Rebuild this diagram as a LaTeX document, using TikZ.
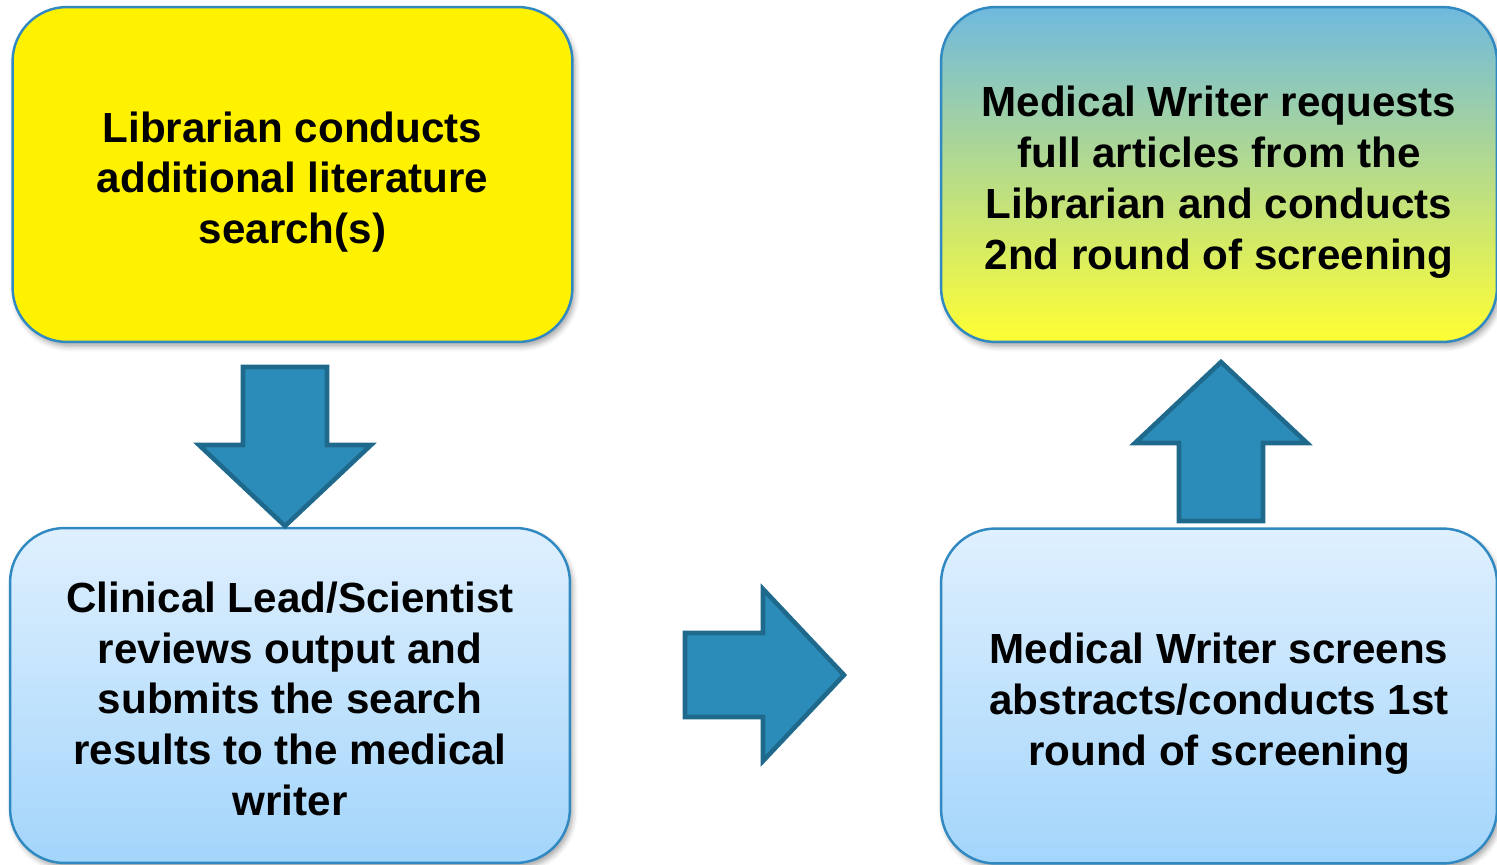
\documentclass[tikz,border=0pt]{standalone}
\usepackage{fontspec}
\setmainfont{Liberation Sans}
\usetikzlibrary{shadows.blur}
\definecolor{boxEdge}{HTML}{3189C1}
\definecolor{arrowFill}{HTML}{2B8CBA}
\definecolor{arrowEdge}{HTML}{1F6A8C}
\definecolor{paleBlue}{HTML}{DFF0FE}
\definecolor{skyBlue}{HTML}{A3D5FB}
\definecolor{tealBlue}{HTML}{6FB9DF}
\definecolor{limeMid}{HTML}{C4DFA6}
\definecolor{lemon}{HTML}{FFFF33}

% fixed line box for the first and last line of a box text
\newcommand{\topstrut}{\rule{0pt}{26pt}}
\newcommand{\botstrut}{\rule[-5.1pt]{0pt}{5.1pt}}

\tikzset{
  stagebox/.style={draw=boxEdge, line width=1.4pt, rounded corners=31pt,
    minimum width=11.2cm, minimum height=6.7cm, align=center,
    font=\fontsize{24}{28.9}\selectfont\bfseries,
    blur shadow={shadow xshift=1.5pt, shadow yshift=-2.5pt,
      shadow blur radius=3pt, shadow opacity=35}},
  bluebox/.style={stagebox, top color=paleBlue, bottom color=skyBlue},
  fatarrow/.style={fill=arrowFill, draw=arrowEdge, line width=2.6pt, line join=miter}
}

% block arrow: #1 = base of the head, #2 = direction
\newcommand{\blockarrow}[2]{%
  \draw[fatarrow, shift={(#1)}, rotate=#2]
    (-78,-42) -- (0,-42) -- (0,-86) -- (81,0) -- (0,86) -- (0,42) -- (-78,42) -- cycle;}

\begin{document}
\begin{tikzpicture}[x=0.02cm, y=-0.02cm]
  \useasboundingbox (0,0) rectangle (1497,865);

  % the four stages
  \node[stagebox, fill=yellow] (search) at (292.5,174.5)
    {\topstrut Librarian conducts\\additional literature\\search(s)\botstrut};
  \node[bluebox] (review) at (290,695.5)
    {\topstrut Clinical Lead/Scientist\\reviews output and\\submits the search\\results to the medical\\writer\botstrut};
  \node[bluebox, minimum width=11.12cm] (screen1) at (1219,696)
    {\topstrut Medical Writer screens\\abstracts/conducts 1st\\round of screening\botstrut};
  \node[stagebox, minimum width=11.12cm, top color=tealBlue, middle color=limeMid, bottom color=lemon]
    (screen2) at (1219,174.5)
    {\topstrut Medical Writer requests\\full articles from the\\Librarian and conducts\\2nd round of screening\botstrut};

  % arrows between them
  \coordinate (down) at (285,445);
  \coordinate (across) at (763,675);
  \coordinate (up) at (1221,443);
  \blockarrow{down}{-90}
  \blockarrow{across}{0}
  \blockarrow{up}{90}
\end{tikzpicture}
\end{document}
